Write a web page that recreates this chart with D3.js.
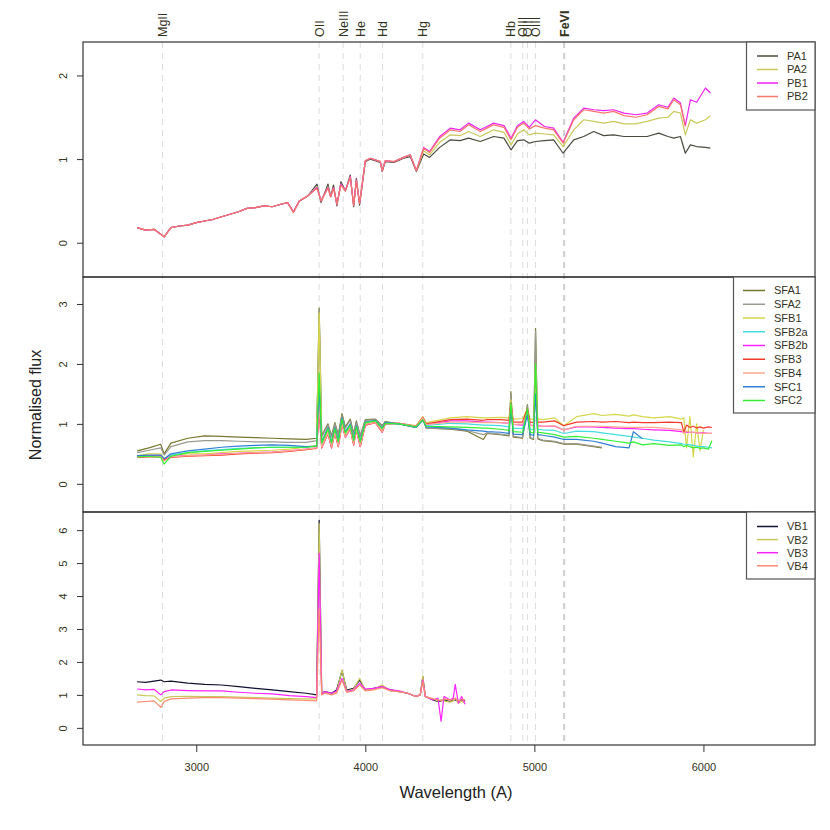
<!DOCTYPE html>
<html>
<head>
<meta charset="utf-8">
<script src="https://cdn.jsdelivr.net/npm/d3@7"></script>
<style>
body { margin: 0; background: #fff; }
svg { font-family: "Liberation Sans", Arial, sans-serif; }
</style>
</head>
<body>
<div id="chart"></div>
<script>
const lineNames = ["MgII", "OII", "NeIII", "He", "Hd", "Hg", "Hb", "OIII", "OIII", "OIII", "FeVI"];
const lineWaves = [2800, 3727, 3869, 3970, 4102, 4340, 4861, 4931, 4959, 5007, 5176];
const xTicks = [3000, 4000, 5000, 6000];

// panel 1
const topWaves = [2650, 2700, 2750, 2790, 2810, 2850, 2900, 2950, 3000, 3050, 3100, 3150, 3200, 3250, 3300, 3350, 3400, 3450, 3500, 3540,
    3575, 3610, 3660, 3714, 3738, 3779, 3795, 3812, 3832, 3856, 3882, 3911, 3931, 3947, 3966, 4000, 4030, 4089, 4100, 4118,
    4170, 4227, 4266, 4302, 4345, 4380, 4440, 4503, 4560, 4611, 4680, 4720, 4759, 4820, 4862, 4900, 4937, 4970, 5006, 5060,
    5114, 5170, 5233, 5292, 5351, 5410, 5469, 5530, 5600, 5667, 5736, 5790, 5825, 5864, 5893, 5923, 5960, 6012, 6041];
const PA1 = [0.18, 0.15, 0.16, 0.10, 0.07, 0.18, 0.20, 0.21, 0.24, 0.26, 0.28, 0.31, 0.34, 0.37, 0.41, 0.42, 0.44, 0.43, 0.46, 0.48,
    0.37, 0.50, 0.56, 0.70, 0.48, 0.70, 0.55, 0.69, 0.44, 0.73, 0.62, 0.81, 0.43, 0.77, 0.45, 0.97, 1.00, 0.96, 0.85, 0.97,
    0.96, 1.01, 1.03, 0.85, 1.06, 1.02, 1.14, 1.23, 1.22, 1.25, 1.21, 1.24, 1.27, 1.25, 1.11, 1.22, 1.23, 1.19, 1.21, 1.22,
    1.23, 1.07, 1.23, 1.27, 1.33, 1.28, 1.29, 1.27, 1.27, 1.27, 1.31, 1.27, 1.25, 1.27, 1.07, 1.17, 1.15, 1.14, 1.13];
const PA2 = [0.18, 0.15, 0.16, 0.10, 0.07, 0.18, 0.20, 0.21, 0.24, 0.26, 0.28, 0.31, 0.34, 0.37, 0.41, 0.42, 0.44, 0.43, 0.46, 0.48,
    0.37, 0.50, 0.56, 0.67, 0.50, 0.67, 0.55, 0.66, 0.46, 0.70, 0.62, 0.79, 0.45, 0.75, 0.47, 0.98, 1.01, 0.97, 0.86, 0.98,
    0.97, 1.02, 1.05, 0.86, 1.10, 1.05, 1.20, 1.29, 1.28, 1.33, 1.27, 1.31, 1.35, 1.32, 1.17, 1.30, 1.35, 1.29, 1.31, 1.30,
    1.29, 1.15, 1.35, 1.47, 1.45, 1.43, 1.45, 1.42, 1.42, 1.45, 1.49, 1.50, 1.57, 1.55, 1.29, 1.47, 1.43, 1.47, 1.52];
const PB1 = [0.18, 0.15, 0.16, 0.10, 0.07, 0.18, 0.20, 0.21, 0.24, 0.26, 0.28, 0.31, 0.34, 0.37, 0.41, 0.42, 0.44, 0.43, 0.46, 0.48,
    0.37, 0.50, 0.56, 0.66, 0.50, 0.66, 0.55, 0.66, 0.46, 0.70, 0.62, 0.79, 0.45, 0.75, 0.47, 0.98, 1.01, 0.97, 0.86, 0.98,
    0.97, 1.02, 1.05, 0.86, 1.14, 1.09, 1.27, 1.37, 1.35, 1.43, 1.35, 1.39, 1.43, 1.40, 1.25, 1.40, 1.45, 1.38, 1.47, 1.39,
    1.37, 1.20, 1.49, 1.61, 1.59, 1.58, 1.59, 1.55, 1.53, 1.55, 1.65, 1.62, 1.73, 1.67, 1.40, 1.71, 1.68, 1.85, 1.79];
const PB2 = [0.18, 0.15, 0.16, 0.10, 0.07, 0.18, 0.20, 0.21, 0.24, 0.26, 0.28, 0.31, 0.34, 0.37, 0.41, 0.42, 0.44, 0.43, 0.46, 0.48,
    0.36, 0.50, 0.56, 0.65, 0.50, 0.65, 0.55, 0.65, 0.46, 0.69, 0.62, 0.78, 0.45, 0.74, 0.47, 0.98, 1.01, 0.97, 0.86, 0.98,
    0.97, 1.02, 1.05, 0.86, 1.13, 1.08, 1.25, 1.35, 1.33, 1.41, 1.33, 1.37, 1.41, 1.38, 1.23, 1.38, 1.43, 1.36, 1.40, 1.37,
    1.35, 1.19, 1.47, 1.59, 1.57, 1.55, 1.57, 1.52, 1.50, 1.53, 1.63, 1.60, 1.71, 1.65, 1.39, null, null, null, null];

// panel 2
const midWaves = [2650, 2720, 2790, 2810, 2850, 2950, 3050, 3150, 3250, 3350, 3450, 3550, 3650, 3712,
    3727, 3742, 3779, 3800, 3820, 3840, 3862, 3882, 3911, 3931, 3947, 3970, 4000, 4060, 4100, 4118, 4200, 4300, 4340, 4360,
    4503, 4600, 4698, 4720, 4800, 4850, 4861, 4875, 4930, 4959, 4975, 4995, 5007, 5020, 5050, 5120, 5174, 5250, 5351, 5400,
    5480, 5560, 5586, 5640, 5706, 5800, 5870, 5884, 5900, 5920, 5940, 5960, 5980, 6000, 6030, 6050];
const SFA1 = [0.55, 0.60, 0.66, 0.50, 0.68, 0.76, 0.80, 0.79, 0.78, 0.77, 0.76, 0.75, 0.74, 0.76,
    2.93, 0.80, 1.00, 0.80, 1.02, 0.82, 1.17, 0.95, 1.08, 0.84, 1.05, 0.80, 1.07, 1.08, 0.97, 1.04, 1.00, 0.94, 1.10, 0.93,
    0.91, 0.88, 0.74, 0.84, 0.82, 0.80, 1.54, 0.78, 0.76, 1.32, 0.76, 0.74, 2.59, 0.75, 0.72, 0.70, 0.66, 0.66, 0.62, 0.60,
    null, null, null, null, null, null, null, null, null, null, null, null, null, null, null, null];
const SFA2 = [0.52, 0.56, 0.60, 0.48, 0.62, 0.70, 0.72, 0.72, 0.71, 0.70, 0.70, 0.69, 0.69, 0.72,
    2.90, 0.78, 0.98, 0.78, 1.00, 0.80, 1.14, 0.93, 1.06, 0.82, 1.03, 0.79, 1.06, 1.07, 0.96, 1.03, 1.00, 0.94, 1.08, 0.93,
    0.92, 0.89, 0.82, 0.85, 0.83, 0.81, 1.50, 0.79, 0.77, 1.30, 0.77, 0.75, 2.55, 0.76, 0.73, 0.71, 0.67, 0.67, 0.63, 0.61,
    null, null, null, null, null, null, null, null, null, null, null, null, null, null, null, null];
const SFB1 = [0.47, 0.50, 0.50, 0.42, 0.48, 0.50, 0.50, 0.52, 0.54, 0.55, 0.56, 0.58, 0.61, 0.64,
    2.85, 0.66, 0.88, 0.64, 0.88, 0.66, 1.03, 0.80, 0.94, 0.67, 0.92, 0.64, 1.00, 1.03, 0.88, 1.00, 1.01, 0.97, 1.12, 1.02,
    1.10, 1.12, 1.10, 1.10, 1.11, 1.10, 1.40, 1.08, 1.09, 1.25, 1.08, 1.08, 2.00, 1.08, 1.07, 1.10, 0.97, 1.12, 1.17, 1.14,
    1.16, 1.13, 1.15, 1.12, 1.10, 1.12, 1.08, 1.10, 0.60, 1.12, 0.45, 1.00, 0.55, 0.90, null, null];
const SFB2a = [0.46, 0.47, 0.46, 0.40, 0.48, 0.52, 0.55, 0.57, 0.59, 0.60, 0.61, 0.61, 0.61, 0.63,
    1.50, 0.68, 0.92, 0.68, 0.92, 0.70, 1.08, 0.85, 0.98, 0.72, 0.95, 0.70, 1.02, 1.05, 0.92, 1.01, 1.00, 0.95, 1.08, 0.97,
    1.01, 1.00, 0.98, 0.98, 0.97, 0.95, 1.30, 0.93, 0.92, 1.20, 0.91, 0.90, 1.55, 0.91, 0.90, 0.89, 0.84, 0.88, 0.87, 0.85,
    0.82, 0.79, 0.78, 0.76, 0.73, 0.70, 0.67, 0.66, 0.66, 0.65, 0.64, 0.63, 0.62, 0.62, 0.61, 0.60];
const SFB2b = [0.45, 0.47, 0.47, 0.40, 0.46, 0.47, 0.48, 0.50, 0.51, 0.52, 0.53, 0.55, 0.58, 0.60,
    1.30, 0.60, 0.84, 0.60, 0.85, 0.62, 1.00, 0.77, 0.92, 0.65, 0.90, 0.62, 0.98, 1.02, 0.86, 1.00, 1.01, 0.96, 1.10, 0.99,
    1.05, 1.05, 1.03, 1.03, 1.02, 1.01, 1.35, 0.99, 0.98, 1.22, 0.98, 0.97, 1.65, 0.97, 0.96, 0.96, 0.90, 0.95, 0.95, 0.94,
    0.93, 0.92, 0.92, 0.91, 0.90, 0.89, 0.87, 0.86, 0.86, 0.86, 0.86, 0.85, 0.85, 0.85, 0.84, 0.84];
const SFB3 = [0.44, 0.45, 0.45, 0.40, 0.44, 0.46, 0.47, 0.48, 0.50, 0.51, 0.52, 0.54, 0.57, 0.59,
    1.20, 0.60, 0.84, 0.60, 0.85, 0.62, 1.00, 0.78, 0.92, 0.65, 0.90, 0.62, 0.98, 1.02, 0.86, 1.00, 1.01, 0.96, 1.11, 1.00,
    1.07, 1.08, 1.06, 1.07, 1.07, 1.06, 1.35, 1.03, 1.03, 1.25, 1.03, 1.02, 1.65, 1.03, 1.03, 1.05, 0.97, 1.03, 1.04, 1.03,
    1.04, 1.02, 1.03, 1.02, 1.02, 1.03, 1.02, 0.86, 0.98, 0.94, 0.96, 0.93, 0.95, 0.93, 0.95, 0.94];
const SFB4 = [0.45, 0.46, 0.46, 0.38, 0.45, 0.47, 0.48, 0.49, 0.51, 0.52, 0.53, 0.55, 0.58, 0.60,
    1.30, 0.61, 0.85, 0.61, 0.86, 0.63, 1.01, 0.78, 0.93, 0.66, 0.91, 0.63, 0.99, 1.02, 0.87, 1.00, 1.01, 0.96, 1.10, 0.99,
    1.03, 1.03, 1.02, 1.02, 1.02, 1.01, 1.32, 0.99, 1.00, 1.20, 0.98, 0.96, 1.60, 0.96, 0.96, 0.97, 0.90, 0.96, 0.96, 0.96,
    0.95, 0.94, 0.94, 0.94, 0.94, 0.92, 0.90, 0.84, 0.88, 0.86, 0.86, 0.85, 0.85, 0.84, 0.84, 0.84];
const SFC1 = [0.47, 0.48, 0.48, 0.42, 0.50, 0.55, 0.58, 0.61, 0.63, 0.64, 0.65, 0.64, 0.62, 0.63,
    1.60, 0.70, 0.94, 0.70, 0.94, 0.72, 1.10, 0.87, 1.00, 0.74, 0.97, 0.72, 1.03, 1.06, 0.93, 1.02, 1.00, 0.94, 1.06, 0.95,
    0.93, 0.90, 0.88, 0.87, 0.86, 0.84, 1.25, 0.83, 0.82, 1.15, 0.82, 0.81, 1.50, 0.82, 0.81, 0.78, 0.74, 0.74, 0.71, 0.68,
    0.62, 0.60, 0.87, 0.75, null, null, null, null, null, null, null, null, null, null, null, null];
const SFC2 = [0.45, 0.46, 0.44, 0.33, 0.46, 0.52, 0.54, 0.56, 0.58, 0.60, 0.61, 0.61, 0.61, 0.63,
    1.85, 0.68, 0.92, 0.68, 0.92, 0.70, 1.08, 0.85, 0.98, 0.72, 0.95, 0.70, 1.02, 1.05, 0.92, 1.01, 1.00, 0.95, 1.07, 0.96,
    0.95, 0.94, 0.93, 0.93, 0.91, 0.89, 1.35, 0.87, 0.86, 1.25, 0.86, 0.85, 2.00, 0.86, 0.85, 0.82, 0.78, 0.79, 0.76, 0.74,
    0.71, 0.68, 0.70, 0.65, 0.67, 0.64, 0.65, 0.62, 0.64, 0.62, 0.60, 0.61, 0.59, 0.60, 0.58, 0.72];

// panel 3
const botWaves = [2650, 2700, 2750, 2790, 2810, 2850, 2950, 3050, 3150, 3250, 3350, 3450, 3550, 3650, 3712,
    3727, 3742, 3760, 3800, 3830, 3862, 3890, 3930, 3967, 4000, 4050, 4099, 4150, 4200, 4250, 4300, 4325, 4340, 4355,
    4400, 4430, 4448, 4465, 4500, 4520, 4532, 4550, 4570, 4590];
const VB1 = [1.40, 1.38, 1.42, 1.45, 1.40, 1.42, 1.36, 1.32, 1.30, 1.25, 1.20, 1.15, 1.10, 1.05, 1.00,
    6.30, 1.05, 1.10, 1.05, 1.15, 1.73, 1.15, 1.20, 1.45, 1.15, 1.20, 1.25, 1.15, 1.10, 1.05, 0.95, 1.00, 1.55, 0.95,
    0.85, 0.80, 0.82, 0.85, 0.80, 0.85, 0.85, 0.80, 0.85, 0.82];
const VB2 = [1.00, 0.98, 0.97, 0.80, 0.90, 0.95, 0.96, 0.95, 0.95, 0.93, 0.92, 0.90, 0.89, 0.88, 0.88,
    6.20, 1.05, 1.08, 1.02, 1.10, 1.75, 1.12, 1.18, 1.50, 1.15, 1.18, 1.30, 1.12, 1.10, 1.05, 0.95, 1.00, 1.58, 0.95,
    0.88, 0.82, 0.85, 0.82, 0.78, 0.82, 0.90, 0.75, 0.80, 0.75];
const VB3 = [1.18, 1.15, 1.17, 1.00, 1.10, 1.15, 1.13, 1.12, 1.12, 1.08, 1.05, 1.03, 0.98, 0.95, 0.92,
    5.30, 1.02, 1.10, 1.05, 1.12, 1.50, 1.10, 1.15, 1.35, 1.18, 1.20, 1.25, 1.15, 1.12, 1.05, 0.95, 1.00, 1.45, 0.95,
    0.85, 0.90, 0.20, 0.95, 0.85, 0.90, 1.32, 0.75, 0.95, 0.72];
const VB4 = [0.78, 0.80, 0.82, 0.62, 0.80, 0.88, 0.90, 0.92, 0.92, 0.90, 0.89, 0.87, 0.85, 0.83, 0.82,
    3.60, 1.00, 1.05, 1.00, 1.05, 1.45, 1.08, 1.12, 1.30, 1.12, 1.15, 1.22, 1.12, 1.10, 1.05, 0.95, 1.00, 1.40, 0.95,
    0.88, 0.85, 0.82, 0.88, 0.85, 0.85, 0.90, 0.82, 0.85, 0.85];

const width = 830, height = 830;
const left = 83, right = 815;
const ink = "#333";

const panels = [
    {
        top: 42, bottom: 277, domain: [-0.41, 2.40], ticks: [0, 1, 2], waves: topWaves,
        legendLeft: 746.5, legendBottom: 110, legendRow0: 56, legendStep: 13.5, legendLine: [757, 778], legendText: 787,
        series: [
            { name: "PA1", values: PA1, color: "#4a4a40" },
            { name: "PA2", values: PA2, color: "#c9c95a" },
            { name: "PB1", values: PB1, color: "#ee22ee" },
            { name: "PB2", values: PB2, color: "#f7786a" }
        ]
    },
    {
        top: 277, bottom: 512, domain: [-0.47, 3.45], ticks: [0, 1, 2, 3], waves: midWaves,
        legendLeft: 733.5, legendBottom: 413, legendRow0: 290.5, legendStep: 13.75, legendLine: [743, 765], legendText: 774,
        series: [
            { name: "SFA1", values: SFA1, color: "#77772e" },
            { name: "SFA2", values: SFA2, color: "#999990" },
            { name: "SFB1", values: SFB1, color: "#d6d64a" },
            { name: "SFB2a", values: SFB2a, color: "#44dddd" },
            { name: "SFB2b", values: SFB2b, color: "#ff22ff" },
            { name: "SFB3", values: SFB3, color: "#f23a2a" },
            { name: "SFB4", values: SFB4, color: "#ffa890" },
            { name: "SFC1", values: SFC1, color: "#2e7fd6" },
            { name: "SFC2", values: SFC2, color: "#33ee33" }
        ]
    },
    {
        top: 512, bottom: 745, domain: [-0.52, 6.55], ticks: [0, 1, 2, 3, 4, 5, 6], waves: botWaves,
        legendLeft: 746.5, legendBottom: 579, legendRow0: 526.5, legendStep: 13.1, legendLine: [757, 778], legendText: 787,
        series: [
            { name: "VB1", values: VB1, color: "#111133" },
            { name: "VB2", values: VB2, color: "#c8c85a" },
            { name: "VB3", values: VB3, color: "#ff22ff" },
            { name: "VB4", values: VB4, color: "#ff8a70" }
        ]
    }
];

const svg = d3.select("#chart").append("svg")
    .attr("width", width)
    .attr("height", height);

const x = d3.scaleLinear().domain([2330, 6660]).range([left, right]);

// emission line markers, across all panels
svg.append("g")
    .selectAll("line")
    .data(lineWaves)
    .enter()
    .append("line")
    .attr("x1", d => x(d)).attr("x2", d => x(d))
    .attr("y1", 42).attr("y2", 745)
    .style("stroke", (d, i) => lineNames[i] === "FeVI" ? "#cfcfcf" : "#dcdcdc")
    .style("stroke-width", (d, i) => lineNames[i] === "FeVI" ? 2 : 1)
    .style("stroke-dasharray", "6,5");

svg.append("g")
    .selectAll("text")
    .data(lineWaves)
    .enter()
    .append("text")
    .attr("transform", d => "translate(" + (x(d) + 4.5) + ",37) rotate(-90)")
    .style("font-size", "12.5px")
    .style("font-weight", (d, i) => lineNames[i] === "FeVI" ? "bold" : "normal")
    .style("fill", "#333322")
    .text((d, i) => lineNames[i]);

panels.forEach((p, pi) => {
    const y = d3.scaleLinear().domain(p.domain).range([p.bottom, p.top]);
    const g = svg.append("g");

    g.append("clipPath")
        .attr("id", "clip" + pi)
        .append("rect")
        .attr("x", left).attr("y", p.top)
        .attr("width", right - left).attr("height", p.bottom - p.top);

    const line = d3.line()
        .defined(d => d[1] != null)
        .x(d => x(d[0]))
        .y(d => y(d[1]));

    g.append("g")
        .attr("clip-path", "url(#clip" + pi + ")")
        .selectAll("path")
        .data(p.series)
        .enter()
        .append("path")
        .attr("d", s => line(d3.zip(p.waves, s.values)))
        .style("fill", "none")
        .style("stroke", s => s.color)
        .style("stroke-width", 1.2)
        .style("stroke-linejoin", "round");

    const axis = g.append("g")
        .attr("transform", "translate(" + left + ",0)")
        .call(d3.axisLeft(y).tickValues(p.ticks).tickSize(6).tickFormat(d3.format("d")));
    axis.select(".domain").remove();
    axis.selectAll("line").style("stroke", ink);
    axis.selectAll("text")
        .attr("x", null).attr("dy", null)
        .attr("transform", "translate(-16,0) rotate(-90)")
        .attr("text-anchor", "middle")
        .style("font-size", "11px")
        .style("font-family", "'Liberation Sans', Arial, sans-serif")
        .style("fill", "#333322");

    g.append("rect")
        .attr("x", left).attr("y", p.top)
        .attr("width", right - left).attr("height", p.bottom - p.top)
        .style("fill", "none")
        .style("stroke", ink)
        .style("stroke-width", 1.2);

    // legend
    const lg = g.append("g");
    lg.append("rect")
        .attr("x", p.legendLeft).attr("y", p.top)
        .attr("width", right - p.legendLeft).attr("height", p.legendBottom - p.top)
        .style("fill", "#fff")
        .style("stroke", "#555")
        .style("stroke-width", 1.2);

    const rows = lg.selectAll(".row")
        .data(p.series)
        .enter()
        .append("g")
        .attr("class", "row")
        .attr("transform", (s, i) => "translate(0," + (p.legendRow0 + i * p.legendStep) + ")");
    rows.append("line")
        .attr("x1", p.legendLine[0]).attr("x2", p.legendLine[1])
        .style("stroke", s => s.color)
        .style("stroke-width", 1.5);
    rows.append("text")
        .attr("x", p.legendText)
        .attr("dy", "0.36em")
        .style("font-size", "11px")
        .style("fill", "#333322")
        .text(s => s.name);
});

const xAxis = svg.append("g")
    .attr("transform", "translate(0,745)")
    .call(d3.axisBottom(x).tickValues(xTicks).tickSize(7).tickFormat(d3.format("d")));
xAxis.select(".domain").remove();
xAxis.selectAll("line").style("stroke", ink);
xAxis.selectAll("text")
    .attr("y", 18)
    .style("font-size", "11px")
    .style("font-family", "'Liberation Sans', Arial, sans-serif")
    .style("fill", "#333322");

svg.append("text")
    .attr("x", 456).attr("y", 798)
    .attr("text-anchor", "middle")
    .style("font-size", "16.5px")
    .style("fill", "#222")
    .text("Wavelength (A)");

svg.append("text")
    .attr("transform", "translate(41,405) rotate(-90)")
    .attr("text-anchor", "middle")
    .style("font-size", "16px")
    .style("fill", "#222")
    .text("Normalised flux");
</script>
</body>
</html>
